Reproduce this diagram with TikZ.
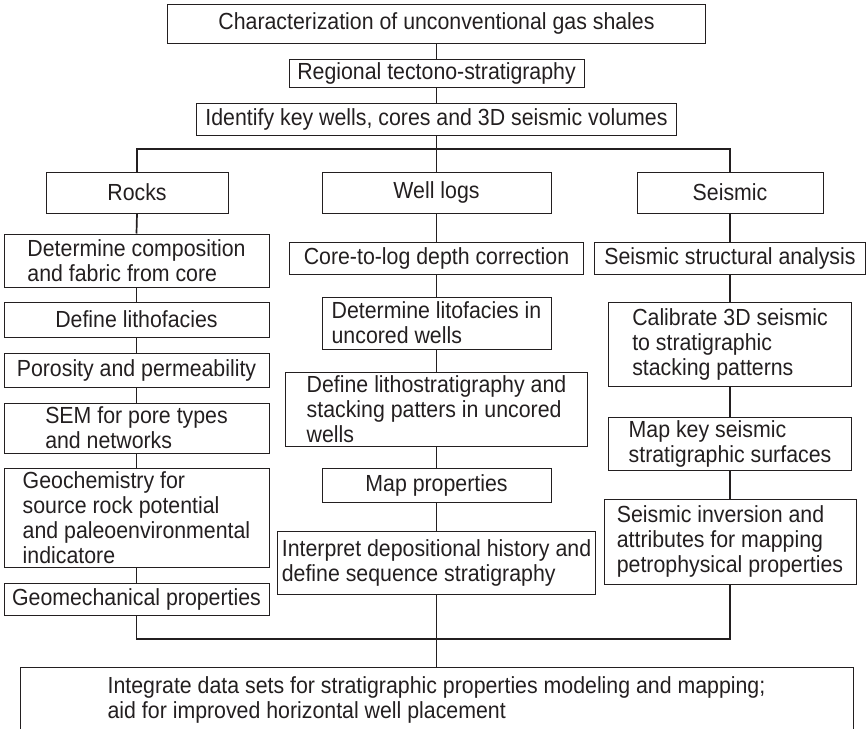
\documentclass[tikz,border=0pt]{standalone}
\usepackage{fontspec}
\setmainfont{Liberation Sans}[FakeStretch=0.915]
\usepackage{tikz}
\usetikzlibrary{positioning,calc}
\definecolor{inkgray}{RGB}{35,31,32}
\tikzset{
    flowbox/.style={draw=inkgray, line width=1pt, text=inkgray, inner xsep=4pt, inner ysep=2pt,
        align=center, font=\fontsize{23.3}{25}\selectfont},
    stackbox/.style={flowbox, align=left},
    link/.style={draw=inkgray, line width=1.7pt},
}

\begin{document}
\begin{tikzpicture}[x=1pt, y=-1pt]
            \useasboundingbox (0,0) rectangle (866,728);
            % top of the chart
            \node[flowbox, minimum width=538pt, minimum height=39pt] (chartop) at (436.5,23.5)
                {Characterization of unconventional gas shales};
            \node[flowbox, minimum width=295pt, minimum height=28pt] (regional) at (436.5,73)
                {Regional tectono-stratigraphy};
            \node[flowbox, minimum width=480pt, minimum height=32pt] (keywells) at (436.5,119)
                {Identify key wells, cores and 3D seismic volumes};
            % three branches
            \node[flowbox, minimum width=182pt, minimum height=41pt] (rocks) at (137,192.5) {Rocks};
            \node[flowbox, minimum width=229pt, minimum height=41pt] (welllogs) at (436.5,192.5) {Well logs};
            \node[flowbox, minimum width=186pt, minimum height=41pt] (seismic) at (730,192.5) {Seismic};
            % rocks column
            \node[stackbox, minimum width=265pt, minimum height=53pt] (compo) at (136.5,260.5)
                {Determine composition\\and fabric from core};
            \node[flowbox, minimum width=265pt, minimum height=35pt] (litho) at (136.5,319.5) {Define lithofacies};
            \node[flowbox, minimum width=265pt, minimum height=34pt] (poro) at (136.5,370) {Porosity and permeability};
            \node[stackbox, minimum width=265pt, minimum height=50pt] (sem) at (136.5,428)
                {SEM for pore types\\and networks};
            \node[stackbox, minimum width=265pt, minimum height=99pt] (geochem) at (136.5,517.5)
                {Geochemistry for\\source rock potential\\and paleoenvironmental\\indicatore};
            \node[flowbox, minimum width=265pt, minimum height=32pt] (geomech) at (136.5,599) {Geomechanical properties};
            % well logs column
            \node[flowbox, minimum width=294pt, minimum height=32pt] (coretolog) at (436.5,258) {Core-to-log depth correction};
            \node[stackbox, minimum width=229pt, minimum height=52pt] (litofac) at (436.5,323)
                {Determine litofacies in\\uncored wells};
            \node[stackbox, minimum width=302pt, minimum height=74pt] (lithostrat) at (436.5,409)
                {Define lithostratigraphy and\\stacking patters in uncored\\wells};
            \node[flowbox, minimum width=229pt, minimum height=34pt] (mapprop) at (436.5,485) {Map properties};
            \node[stackbox, minimum width=315pt, minimum height=63pt] (interpret) at (436.5,562.5)
                {Interpret depositional history and\\define sequence stratigraphy};
            % seismic column
            \node[flowbox, minimum width=271pt, minimum height=32pt] (structural) at (730,258) {Seismic structural analysis};
            \node[stackbox, minimum width=243pt, minimum height=84pt] (calibrate) at (730,344)
                {Calibrate 3D seismic\\to stratigraphic\\stacking patterns};
            \node[stackbox, minimum width=243pt, minimum height=53pt] (mapkey) at (730,443.5)
                {Map key seismic\\stratigraphic surfaces};
            \node[stackbox, minimum width=252pt, minimum height=85pt] (inversion) at (730,541.5)
                {Seismic inversion and\\attributes for mapping\\petrophysical properties};
            % integration
            \node[stackbox, minimum width=833pt, minimum height=65pt] (integrate) at (436.5,699.5)
                {Integrate data sets for stratigraphic properties modeling and mapping;\\aid for improved horizontal well placement};

            % connectors
            \coordinate (split) at (436.5,149);
            \coordinate (merge) at (436.5,639);
            \draw[link] (chartop.south) -- (regional.north);
            \draw[link] (regional.south) -- (keywells.north);
            \draw[link] (keywells.south) -- (split) -- (welllogs.north);
            \draw[link] (rocks.north) |- (split) -| (seismic.north);
            \foreach \from/\to in {rocks/compo, compo/litho, litho/poro, poro/sem, sem/geochem, geochem/geomech,
                welllogs/coretolog, coretolog/litofac, litofac/lithostrat, lithostrat/mapprop, mapprop/interpret,
                seismic/structural, structural/calibrate, calibrate/mapkey, mapkey/inversion}
                \draw[link] (\from.south) -- (\to.north);
            \draw[link] (geomech.south) |- (merge) -| (inversion.south);
            \draw[link] (interpret.south) -- (integrate.north);
\end{tikzpicture}
\end{document}
